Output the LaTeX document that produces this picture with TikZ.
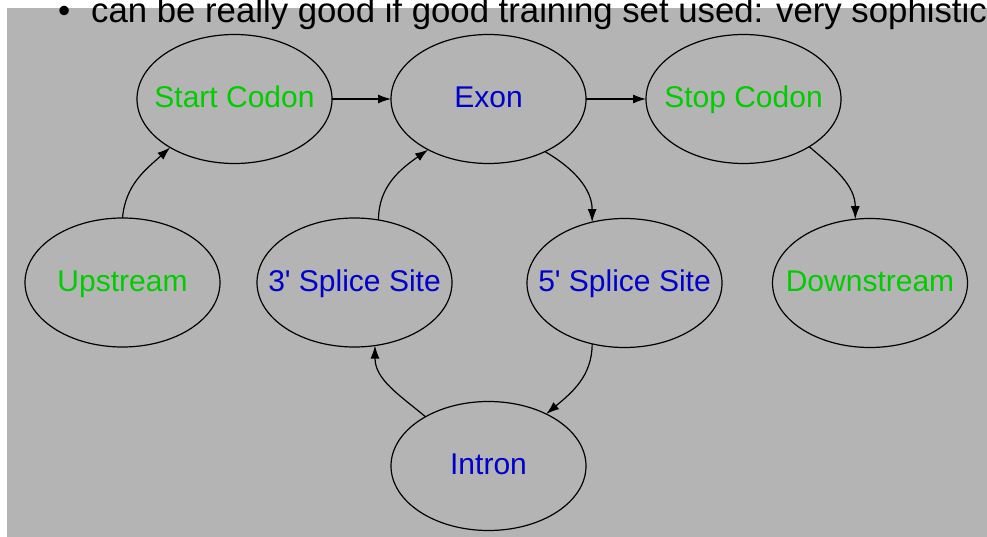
\documentclass[tikz,border=0pt]{standalone}
\usepackage{fontspec}
\setmainfont{Liberation Sans}
\newfontfamily\lblfont{Liberation Sans}[Ligatures=TeXOff]
\usetikzlibrary{shapes.geometric,arrows.meta}
\definecolor{bggray}{RGB}{180,180,180}
\definecolor{lblgreen}{RGB}{0,205,0}
\definecolor{lblblue}{RGB}{0,0,205}
\tikzset{
  state/.style={ellipse, draw=black, line width=1.2pt, minimum width=195pt, minimum height=129pt, inner sep=0pt, outer sep=0pt},
  lbl/.style={font=\lblfont\fontsize{30}{36}\selectfont, inner sep=0pt, text height=21.6pt, text depth=4.5pt},
  green lbl/.style={lbl, text=lblgreen},
  blue lbl/.style={lbl, text=lblblue},
  edge/.style={draw=black, line width=1.2pt, -{Latex[length=13pt,width=9pt]}},
  toptext/.style={font=\fontsize{34.75}{40}\selectfont, inner sep=0pt, anchor=base west}
}
\begin{document}
\begin{tikzpicture}[x=1pt,y=1pt]
\useasboundingbox (0,0) rectangle (987,-537);
\clip (0,0) rectangle (987,-537);
\fill[white] (0,0) rectangle (987,-537);
\fill[bggray] (7,-8) rectangle (987,-537);

\node[state] (start) at (234.5,-99) {};
\node[state] (exon) at (488.5,-99) {};
\node[state] (stop) at (743.5,-99) {};
\node[state] (up) at (122.5,-282.5) {};
\node[state] (tsp) at (354.5,-282.5) {};
\node[state] (fsp) at (624.5,-283) {};
\node[state] (down) at (870,-283) {};
\node[state] (intron) at (488.5,-466) {};

\node[green lbl] (startT) at (start) {Start Codon};
\node[blue lbl] (exonT) at (exon) {Exon};
\node[green lbl] (stopT) at (stop) {Stop Codon};
\node[green lbl] (upT) at (up) {Upstream};
\node[blue lbl] (tspT) at (tsp) {3' Splice Site};
\node[blue lbl] (fspT) at (fsp) {5' Splice Site};
\node[green lbl] (downT) at (down) {Downstream};
\node[blue lbl] (intronT) at (intron) {Intron};

\draw[edge] (start.east) -- (exon.west);
\draw[edge] (exon.east) -- (stop.west);
\draw[edge] (up.north) to[out=85,in=222] (start.217);
\draw[edge] (tsp.69) to[out=90,in=215] (exon.220);
\draw[edge] (exon.-43) to[out=-30,in=90] (fsp.118);
\draw[edge] (stop.-36) to[out=-40,in=90] (down.103);
\draw[edge] (fsp.242) to[out=-90,in=40] (intron.42);
\draw[edge] (intron.142) to[out=140,in=-90] (tsp.288);

\node[toptext] (bullet) at (58,-22.7) {•};
\node[toptext] (topline) at (91,-22.7) {can be really good if good training set used: very sophistica};
\end{tikzpicture}
\end{document}
